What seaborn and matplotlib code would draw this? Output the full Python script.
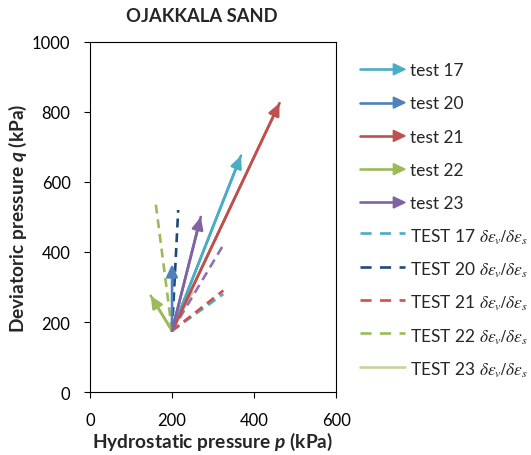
import matplotlib
matplotlib.use("Agg")
import matplotlib.pyplot as plt
import seaborn as sns
import pandas as pd
from matplotlib.lines import Line2D
from matplotlib.patches import Polygon
from matplotlib.legend_handler import HandlerBase

sns.set_theme(style="white")
plt.rcParams['font.family'] = ['Lato', 'DejaVu Sans']
plt.rcParams['mathtext.fontset'] = 'custom'
plt.rcParams['mathtext.bfit'] = 'Lato:bold:italic'

# ---- data ----
origin = (200, 175)
arrow_names = ["test 17", "test 20", "test 21", "test 22", "test 23"]
arrow_p_end = [368, 200, 462, 148, 270]
arrow_q_end = [675, 365, 825, 275, 500]
arrow_colors = ["#4BACC6", "#4F81BD", "#C0504D", "#9BBB59", "#8064A2"]

ratio_names = ["TEST 17", "TEST 20", "TEST 21", "TEST 22", "TEST 23", "TEST 23b"]
ratio_p_end = [325, 215, 325, 160, 250, 325]
ratio_q_end = [280, 520, 290, 540, 285, 420]
ratio_colors = ["#4BACC6", "#1F497D", "#D0504D", "#9BBB59", "#C3D69B", "#8E72B4"]
ratio_styles = ["--", "--", "--", "--", "-", "--"]
ratio_in_legend = [True, True, True, True, True, False]

LW = 1.9
DASH = [3.4, 2.2]

fig = plt.figure(figsize=(5.31, 4.56), dpi=100)
ax = fig.add_axes([0.1695, 0.138, 0.4635, 0.768])

# dashed / ratio lines
for name, pe, qe, c, ls in zip(ratio_names, ratio_p_end, ratio_q_end, ratio_colors, ratio_styles):
    df = pd.DataFrame({"p": [origin[0], pe], "q": [origin[1], qe]})
    sns.lineplot(data=df, x="p", y="q", ax=ax, color=c, lw=LW,
                 legend=False, sort=False)
    if ls == "--":
        ax.lines[-1].set_dashes(DASH)

# arrows (stress paths)
for name, pe, qe, c in zip(arrow_names, arrow_p_end, arrow_q_end, arrow_colors):
    df = pd.DataFrame({"p": [origin[0], pe], "q": [origin[1], qe]})
    sns.lineplot(data=df, x="p", y="q", ax=ax, color=c, lw=LW, legend=False, sort=False)
    ax.annotate("", xy=(pe, qe), xytext=(origin[0], origin[1]),
                arrowprops=dict(arrowstyle="-|>,head_length=0.6,head_width=0.28",
                                color=c, lw=LW, shrinkA=0, shrinkB=0))

ax.set_xlim(0, 600)
ax.set_ylim(0, 1000)
ax.set_xticks([0, 200, 400, 600])
ax.set_yticks([0, 200, 400, 600, 800, 1000])
ax.tick_params(axis="both", labelsize=12, direction="out", length=4, width=0.8,
               pad=10, bottom=True, left=True, colors="black")
for s in ax.spines.values():
    s.set_color("black")
    s.set_linewidth(0.8)
ax.set_xlabel(r"Hydrostatic pressure $\mathbfit{p}$ (kPa)", fontsize=13.8, fontweight="bold",
              labelpad=1.5)
ax.set_ylabel(r"Deviatoric pressure $\mathbfit{q}$ (kPa)", fontsize=13.8, fontweight="bold",
              labelpad=2)
fig.text(202 / 531, 1 - 17 / 456, "OJAKKALA SAND", ha="center", va="center",
         fontsize=13.2, fontweight="bold")


class ArrowHandler(HandlerBase):
    def create_artists(self, legend, orig_handle, xdescent, ydescent, width, height,
                       fontsize, trans):
        c = orig_handle.get_color()
        y = height / 2 - ydescent
        x0 = -xdescent
        x1 = width - xdescent
        line = Line2D([x0, x1 - 7], [y, y], color=c, lw=LW, transform=trans)
        head = Polygon([[x1 - 8.5, y + 4], [x1, y], [x1 - 8.5, y - 4]], closed=True,
                       color=c, transform=trans)
        return [line, head]


handles, labels, hmap = [], [], {}
for name, c in zip(arrow_names, arrow_colors):
    h = Line2D([], [], color=c)
    handles.append(h)
    labels.append(name)
    hmap[h] = ArrowHandler()
for name, c, ls, inl in zip(ratio_names, ratio_colors, ratio_styles, ratio_in_legend):
    if not inl:
        continue
    h = Line2D([], [], color=c, lw=LW)
    if ls == "--":
        h.set_dashes([4.2, 3.2])
    handles.append(h)
    labels.append(name + r" $\delta\varepsilon_v/\delta\varepsilon_s$")

leg = fig.legend(handles, labels, handler_map=hmap, loc="upper left",
                 bbox_to_anchor=(360 / 531, 1 - 60 / 456), frameon=False,
                 fontsize=12.5, handlelength=2.6, handletextpad=0.3, labelspacing=0.73,
                 handleheight=1.45, borderaxespad=0, borderpad=0)
for t in leg.get_texts():
    t.set_math_fontfamily("stix")

fig.savefig("out.png", dpi=100)
